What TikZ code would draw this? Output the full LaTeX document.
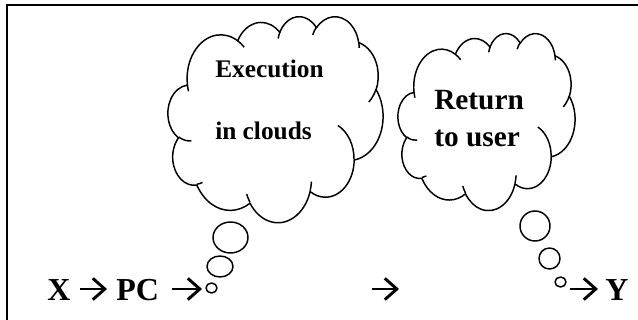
\documentclass[tikz,border=0pt]{standalone}
\usepackage{fontspec}
\setmainfont{Liberation Serif}
\usepackage{tikz}
\usetikzlibrary{arrows.meta, positioning}

% one puff of the cloud: x radius, y radius, start and sweep (visual angles)
\newcommand\puff[4]{arc[x radius=#1, y radius=#2,
  start angle={atan2(#1*sin(#3),#2*cos(#3))},
  delta angle={mod(atan2(#1*sin(#3+#4),#2*cos(#3+#4))-atan2(#1*sin(#3),#2*cos(#3))+720,360)}]}

% cloud outline in a 432 x 432 box
\newcommand\drawcloud{%
  \draw[cloudline] (39.00,143.70) \puff{67.53}{91.90}{-190.4875}{123.7805}
    \puff{53.33}{72.67}{-144.1024}{89.9452}
    \puff{43.65}{59.45}{-145.8079}{99.7230}
    \puff{48.57}{65.95}{-130.9861}{117.2417}
    \puff{53.33}{72.73}{-78.7089}{109.0269}
    \puff{67.75}{92.20}{-46.2673}{130.2690}
    \puff{57.85}{78.67}{0.6250}{114.0333}
    \puff{67.52}{92.15}{22.4516}{115.1726}
    \puff{77.20}{105.43}{66.2426}{75.7110}
    \puff{43.60}{59.18}{-274.9421}{146.7356}
    \puff{43.45}{59.45}{-246.8285}{152.5189} -- cycle;
  % creases
  \draw[cloudline] (46.93,261.77) \puff{43.45}{59.45}{86.7420}{26.4295}
    (69.28,348.99) \puff{43.60}{59.18}{73.6105}{11.4475}
    (164.78,390.90) \puff{67.52}{92.15}{137.6242}{14.0811}
    (288.27,347.51) \puff{67.52}{92.15}{6.4533}{15.9984}
    (341.29,229.54) \puff{57.85}{78.67}{-70.2924}{70.9174}
    (417.98,153.54) \puff{53.33}{72.73}{30.3180}{27.7515}
    (383.24,54.26) \puff{48.57}{65.95}{-13.7443}{14.8589}
    (290.78,39.52) \puff{48.57}{65.95}{-149.1815}{18.1954}
    (221.41,47.20) \puff{43.65}{59.45}{-163.4943}{17.6864}
    (140.00,51.92) \puff{67.53}{91.90}{-66.7070}{12.3194}
    (41.27,157.89) \puff{67.53}{91.90}{157.6544}{11.8582};
}

\tikzset{
  cloudline/.style={line width=1.1pt, line join=round},
  frameline/.style={line width=1.6pt},
  flow/.style={line width=2.2pt, -{Straight Barb[length=9pt, width=16pt]}},
  bigtext/.style={inner sep=0pt, anchor=base west, font=\fontsize{24}{26}\selectfont\bfseries},
  midtext/.style={inner sep=0pt, anchor=base west, font=\fontsize{22}{24}\selectfont\bfseries},
  smalltext/.style={inner sep=0pt, anchor=base west, font=\fontsize{19}{21}\selectfont\bfseries},
}

\begin{document}
\begin{tikzpicture}[x=0.75pt, y=-0.75pt]
  \useasboundingbox (0,0) rectangle (638,320);

  % frame
  \draw[frameline] (7,330) -- (7,5) -- (650,5);

  % first cloud with its bubbles
  \begin{scope}[shift={(168,16)}, xscale=215/432, yscale=206/432]
    \drawcloud
  \end{scope}
  \draw[cloudline] (230.5,237.5) ellipse [x radius=17.5, y radius=15.5];
  \draw[cloudline] (220,266.5) ellipse [x radius=13, y radius=10.5];
  \draw[cloudline] (211.5,288) ellipse [x radius=5.5, y radius=5];

  % second cloud with its bubbles
  \begin{scope}[shift={(398,33)}, xscale=177/432, yscale=177/432]
    \drawcloud
  \end{scope}
  \draw[cloudline] (535,226) ellipse [x radius=15, y radius=15];
  \draw[cloudline] (549.5,258.5) ellipse [x radius=10.5, y radius=10.5];
  \draw[cloudline] (560.5,282) ellipse [x radius=5.5, y radius=5];

  % texts in the clouds
  \node[smalltext] (exec) at (215,78) {Execution};
  \node[smalltext] (inclouds) at (215,140) {in clouds};
  \node[midtext] (ret) at (434,110) {Return};
  \node[midtext] (touser) at (434,147) {to user};

  % bottom line
  \node[bigtext] (x) at (47,300) {X};
  \node[bigtext] (pc) at (116,300) {PC};
  \node[bigtext] (y) at (605,300) {Y};

  \coordinate (xr) at (80,289);
  \coordinate (pcl) at (107,289);
  \coordinate (pcr) at (172,289);
  \coordinate (bl) at (202,289);
  \coordinate (ml) at (372,289);
  \coordinate (mr) at (399,289);
  \coordinate (br) at (570,289);
  \coordinate (yl) at (598,289);

  \draw[flow] (xr) -- (pcl);
  \draw[flow] (pcr) -- (bl);
  \draw[flow] (ml) -- (mr);
  \draw[flow] (br) -- (yl);
\end{tikzpicture}
\end{document}
